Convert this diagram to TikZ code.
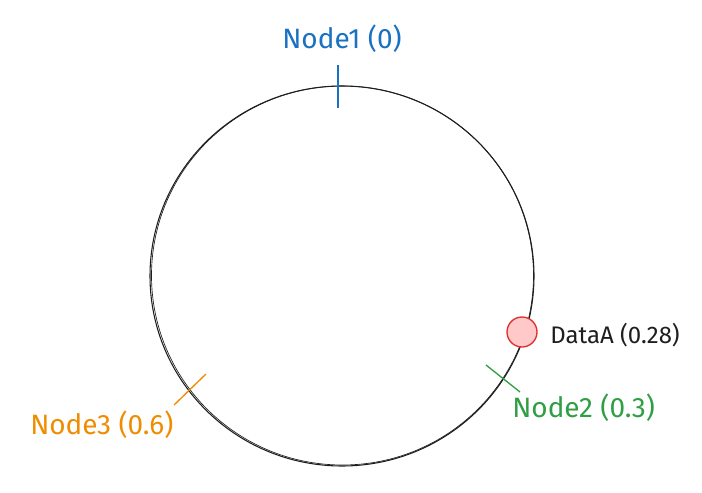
\documentclass[tikz,border=0pt]{standalone}
\usepackage{fontspec}
\setmainfont{Fira Sans}
\definecolor{exblue}{HTML}{1971C2}
\definecolor{exgreen}{HTML}{2F9E44}
\definecolor{exorange}{HTML}{F08C00}
\definecolor{exred}{HTML}{E03131}
\definecolor{exredfill}{HTML}{FFC9C9}
\definecolor{exink}{HTML}{1E1E1E}
\begin{document}
\begin{tikzpicture}[x=0.75pt,y=-0.75pt,
  ring/.style={draw=exink, line width=0.8pt},
  tick/.style={line width=1pt},
  lbl/.style={inner sep=0pt, font=\fontsize{21}{24}\selectfont},
  datalbl/.style={inner sep=0pt, font=\fontsize{18}{21}\selectfont, text=exink}]
\useasboundingbox (0,0) rectangle (702,492);
\coordinate (c) at (342,276);
\draw[ring] (c) ellipse [x radius=192, y radius=190];
\draw[ring, line width=0.5pt] (342.5,275.5) ellipse [x radius=191, y radius=189.5];
% Node1
\coordinate (t1a) at (338,65);
\coordinate (t1b) at (338,108);
\draw[tick, draw=exblue] (t1a) -- (t1b);
\node[lbl, text=exblue] (n1) at (342,39) {Node1 (0)};
% DataA
\node[circle, draw=exred, fill=exredfill, line width=1pt, minimum size=30*0.75pt, inner sep=0pt] (da) at (522,332) {};
\node[datalbl, anchor=west] (dal) at (550,335) {DataA (0.28)};
% Node2
\coordinate (t2a) at (486,365);
\coordinate (t2b) at (520,392);
\draw[tick, draw=exgreen] (t2a) -- (t2b);
\node[lbl, text=exgreen, anchor=west] (n2) at (512,408) {Node2 (0.3)};
% Node3
\coordinate (t3a) at (206,374);
\coordinate (t3b) at (174,405);
\draw[tick, draw=exorange] (t3a) -- (t3b);
\node[lbl, text=exorange, anchor=west] (n3) at (30,425) {Node3 (0.6)};
\end{tikzpicture}
\end{document}
